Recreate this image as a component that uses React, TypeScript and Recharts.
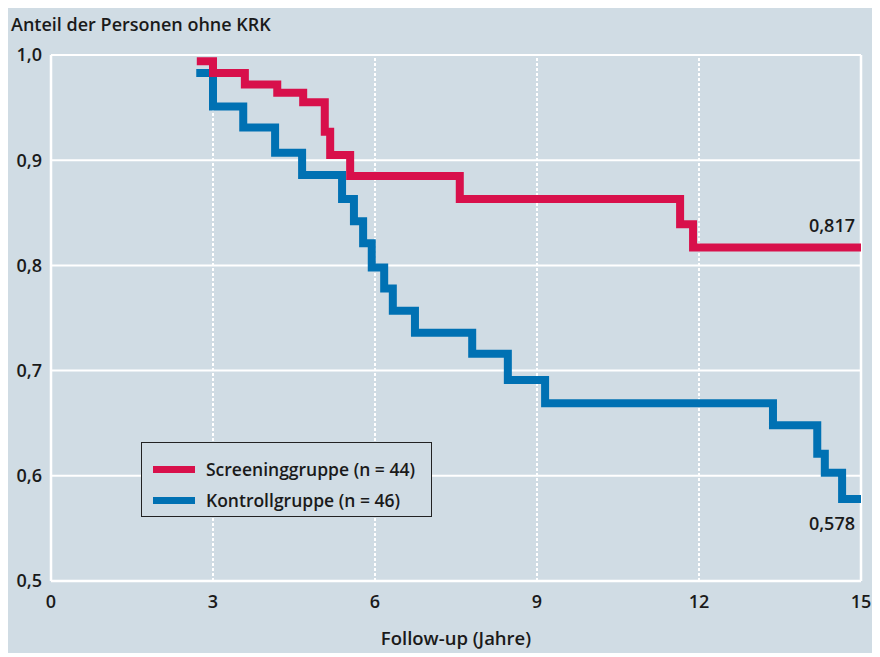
import React from 'react';
import { LineChart, Line, XAxis, YAxis, CartesianGrid, ReferenceLine, LabelList, Label } from 'recharts';

const xTicks = [0, 3, 6, 9, 12, 15];
const yTicks = [0.5, 0.6, 0.7, 0.8, 0.9, 1.0];
const gridX = [3, 6, 9, 12];

const screeningTimes = [2.7, 3.0, 3.59, 4.19, 4.67, 5.07, 5.17, 5.54, 7.57, 11.65, 11.89, 15];
const screeningSurvival = [0.994, 0.983, 0.972, 0.964, 0.955, 0.927, 0.905, 0.885, 0.863, 0.839, 0.817, 0.817];

const kontrollTimes = [2.69, 3.0, 3.56, 4.15, 4.65, 5.39, 5.61, 5.78, 5.94, 6.17, 6.33, 6.74, 7.8, 8.46, 9.15, 13.37, 14.19, 14.33, 14.65, 15];
const kontrollSurvival = [0.983, 0.951, 0.931, 0.907, 0.886, 0.863, 0.842, 0.821, 0.798, 0.778, 0.757, 0.736, 0.716, 0.691, 0.669, 0.648, 0.621, 0.603, 0.578, 0.578];

const seriesNames = ['Screeninggruppe (n = 44)', 'Kontrollgruppe (n = 46)'];
const endLabels = ['0,817', '0,578'];
const yTitle = 'Anteil der Personen ohne KRK';
const xTitle = 'Follow-up (Jahre)';

const RED = '#d8104b';
const BLUE = '#0071b3';
const BG = '#d0dce4';
const TEXT = '#1a1a1a';
const FONT = '"Open Sans", sans-serif';

const screeningData = screeningTimes.map((t, i) => ({ t, s: screeningSurvival[i] }));
const kontrollData = kontrollTimes.map((t, i) => ({ t, s: kontrollSurvival[i] }));

const comma1 = (v: number) => v.toFixed(1).replace('.', ',');

const makeEndLabel = (text: string, lastIndex: number, dy: number) => (props: any) => {
  if (props.index !== lastIndex) return null;
  return (
    <text x={props.x - 6} y={props.y + dy} textAnchor="end" dominantBaseline="central"
      fontFamily={FONT} fontWeight={600} fontSize={18} fill={TEXT}>{text}</text>
  );
};

export default function App() {
  const W = 866;
  const H = 645;
  return (
    <div style={{ position: 'relative', width: W, height: H, background: BG, fontFamily: FONT }}>
      <div style={{ position: 'absolute', left: 3, top: 4, fontSize: 18, fontWeight: 600, color: TEXT, whiteSpace: 'nowrap', lineHeight: '25px' }}>{yTitle}</div>
      <LineChart width={W} height={H} margin={{ top: 47, right: 13, bottom: 8, left: 3 }}>
        <CartesianGrid vertical={false} stroke="#ffffff" strokeWidth={2} horizontalValues={yTicks} />
        {gridX.map((g) => (
          <ReferenceLine key={g} x={g} stroke="#ffffff" strokeWidth={2} strokeDasharray="3 2" />
        ))}
        <ReferenceLine x={15} stroke="#ffffff" strokeWidth={2.5} />
        <XAxis dataKey="t" type="number" domain={[0, 15]} ticks={xTicks} allowDataOverflow
          height={64} tickSize={0} tickMargin={14} axisLine={{ stroke: '#ffffff', strokeWidth: 2.5 }}
          tick={{ fontFamily: FONT, fontWeight: 600, fontSize: 18, fill: TEXT }}>
          <Label value={xTitle} position="insideBottom" offset={0}
            style={{ fontFamily: FONT, fontWeight: 600, fontSize: 18.5, fill: TEXT }} />
        </XAxis>
        <YAxis type="number" domain={[0.5, 1.0]} ticks={yTicks} allowDataOverflow width={40}
          tickSize={0} tickMargin={9} tickFormatter={comma1}
          axisLine={{ stroke: '#ffffff', strokeWidth: 2.5 }}
          tick={{ fontFamily: FONT, fontWeight: 600, fontSize: 18, fill: TEXT }} />
        <Line data={kontrollData} dataKey="s" name={seriesNames[1]} type="stepAfter" stroke={BLUE}
          strokeWidth={8} dot={false} activeDot={false} isAnimationActive={false} strokeLinejoin="miter" strokeLinecap="butt">
          <LabelList dataKey="s" content={makeEndLabel(endLabels[1], kontrollData.length - 1, 24)} />
        </Line>
        <Line data={screeningData} dataKey="s" name={seriesNames[0]} type="stepAfter" stroke={RED}
          strokeWidth={8} dot={false} activeDot={false} isAnimationActive={false} strokeLinejoin="miter" strokeLinecap="butt">
          <LabelList dataKey="s" content={makeEndLabel(endLabels[0], screeningData.length - 1, -23)} />
        </Line>
      </LineChart>
      <div style={{ position: 'absolute', left: 133, top: 434, width: 289, height: 73, border: '1.5px solid #222', background: BG, boxSizing: 'content-box' }}>
        {[RED, BLUE].map((c, i) => (
          <div key={i} style={{ position: 'absolute', left: 11, top: 11 + i * 31, height: 30, display: 'flex', alignItems: 'center' }}>
            <div style={{ width: 42, height: 7, background: c }} />
            <span style={{ marginLeft: 11, fontSize: 17.5, fontWeight: 600, color: TEXT, whiteSpace: 'nowrap' }}>{seriesNames[i]}</span>
          </div>
        ))}
      </div>
    </div>
  );
}
